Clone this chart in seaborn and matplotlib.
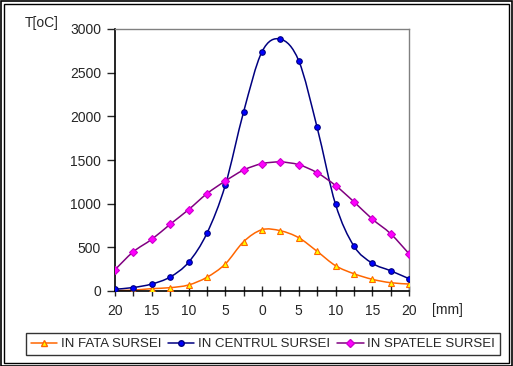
import numpy as np
import pandas as pd
import seaborn as sns
import matplotlib.pyplot as plt
from matplotlib.path import Path
from matplotlib.patches import PathPatch, Rectangle
from matplotlib.lines import Line2D

# data
pos_mm = [-20, -17.5, -15, -12.5, -10, -7.5, -5, -2.5, 0, 2.5, 5, 7.5, 10, 12.5, 15, 17.5, 20]
fata = [5, 10, 27, 38, 69, 157, 309, 565, 702, 690, 610, 454, 290, 198, 134, 95, 80]
centru = [20, 40, 80, 160, 328, 660, 1210, 2052, 2740, 2884, 2636, 1873, 994, 515, 318, 232, 141]
spate = [244, 450, 592, 764, 931, 1114, 1259, 1385, 1458, 1477, 1446, 1354, 1208, 1022, 824, 656, 427]
names = ['IN FATA SURSEI', 'IN CENTRUL SURSEI', 'IN SPATELE SURSEI']
xtick_vals = [-20, -15, -10, -5, 0, 5, 10, 15, 20]

sns.set_style('white')
plt.rcParams['font.family'] = ['Liberation Sans', 'DejaVu Sans']
plt.rcParams['font.size'] = 9

df = pd.DataFrame({'mm': pos_mm * 3,
                   'T': fata + centru + spate,
                   'serie': [names[0]] * 17 + [names[1]] * 17 + [names[2]] * 17})

styles = {
    names[0]: dict(line='#FF6600', face='#FFFF00', edge='#FF6600', marker='^', ms=5),
    names[1]: dict(line='#000080', face='#0000FF', edge='#000080', marker='o', ms=4),
    names[2]: dict(line='#800080', face='#FF00FF', edge='#CC00CC', marker='D', ms=3.6),
}


def smooth_path(x, y):
    # Catmull-Rom style bezier through the points (like Excel "smoothed line")
    x = np.asarray(x, float)
    y = np.asarray(y, float)
    p = np.column_stack([x, y])
    verts = [p[0]]
    codes = [Path.MOVETO]
    n = len(p)
    for i in range(n - 1):
        p0 = p[i - 1] if i > 0 else p[i]
        p3 = p[i + 2] if i + 2 < n else p[i + 1]
        c1 = p[i] + (p[i + 1] - p0) / 6
        c2 = p[i + 1] - (p3 - p[i]) / 6
        verts += [c1, c2, p[i + 1]]
        codes += [Path.CURVE4] * 3
    return Path(verts, codes)


fig = plt.figure(figsize=(5.13, 3.66), dpi=100)
ax = fig.add_axes([115 / 513, 1 - 291 / 366, 294 / 513, 262 / 366])

handles = []
for name in names:
    st = styles[name]
    sub = df[df['serie'] == name]
    ax.add_patch(PathPatch(smooth_path(sub['mm'], sub['T']), fill=False,
                           edgecolor=st['line'], lw=1.1, zorder=2))
    sns.lineplot(data=sub, x='mm', y='T', ax=ax, linestyle='none',
                 marker=st['marker'], markersize=st['ms'],
                 markerfacecolor=st['face'], markeredgecolor=st['edge'],
                 markeredgewidth=0.8, zorder=3, legend=False)
    handles.append(Line2D([], [], color=st['line'], lw=1.1, marker=st['marker'],
                          markersize=st['ms'], markerfacecolor=st['face'],
                          markeredgecolor=st['edge'], label=name))

ax.set_xlim(-20, 20)
ax.set_ylim(0, 3000)
ax.set_xticks(pos_mm)
ax.set_xticklabels([str(abs(int(v))) if v in xtick_vals else '' for v in pos_mm])
ax.set_yticks(range(0, 3001, 500))
ax.set_xlabel('')
ax.set_ylabel('')
ax.tick_params(axis='x', direction='inout', length=7, width=1, pad=6, labelsize=10)
ax.tick_params(axis='y', direction='out', length=6, width=1, pad=4, labelsize=10)
ax.tick_params(left=True, bottom=True)

for s in ['left', 'bottom']:
    ax.spines[s].set_color('black')
    ax.spines[s].set_linewidth(1.2)
for s in ['top', 'right']:
    ax.spines[s].set_color('#808080')
    ax.spines[s].set_linewidth(1)
    ax.spines[s].set_visible(True)

fig.text(25 / 513, 1 - 23 / 366, 'T[oC]', fontsize=10, va='center', ha='left')
fig.text(432 / 513, 1 - 310 / 366, '[mm]', fontsize=10, va='center', ha='left')

leg = fig.legend(handles=handles, loc='center', bbox_to_anchor=(263 / 513, 1 - 344 / 366),
                 ncol=3, frameon=True, fancybox=False, edgecolor='black',
                 fontsize=9.5, handlelength=2.0, handletextpad=0.3,
                 columnspacing=0.5, borderpad=0.35, borderaxespad=0)
leg.get_frame().set_linewidth(1)

# double outer frame
fig.patches.append(Rectangle((0.5 / 513, 0.5 / 366), 511.5 / 513, 364.5 / 366, fill=False,
                             edgecolor='black', lw=1.2, transform=fig.transFigure, figure=fig))
fig.patches.append(Rectangle((3.5 / 513, 3.5 / 366), 505.5 / 513, 358.5 / 366, fill=False,
                             edgecolor='black', lw=1.0, transform=fig.transFigure, figure=fig))

fig.savefig('out.png', dpi=100)
